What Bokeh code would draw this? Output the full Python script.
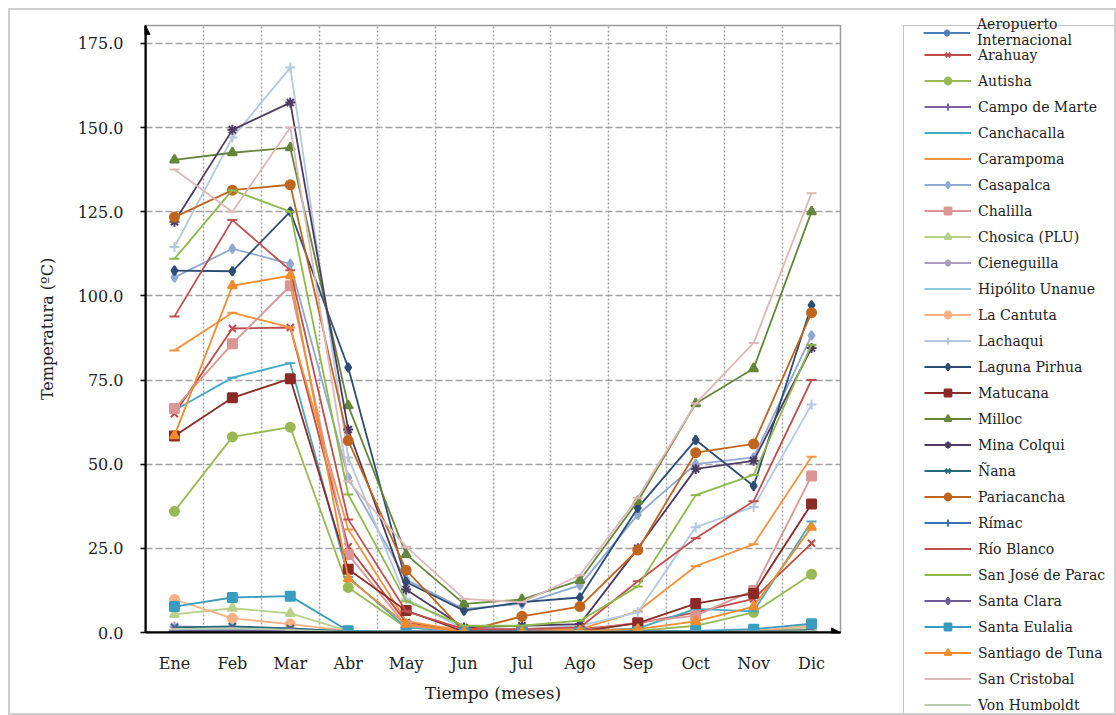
from bokeh.plotting import figure
from bokeh.layouts import row
from bokeh.models import (Range1d, FixedTicker, NumeralTickFormatter, Legend,
                          LegendItem, Arrow, NormalHead)
from bokeh.embed import file_html
from bokeh.resources import INLINE

# ---------------- data ----------------
months = ["Ene", "Feb", "Mar", "Abr", "May", "Jun", "Jul", "Ago", "Sep", "Oct", "Nov", "Dic"]
month_pos = [1, 2, 3, 4, 5, 6, 7, 8, 9, 10, 11, 12]

aeropuerto = [0.6, 0.9, 0.7, 0.2, 0.3, 0.4, 0.4, 0.5, 0.4, 0.2, 0.1, 0.3]
arahuay = [65.0, 90.3, 90.6, 25.5, 3.0, 0.5, 0.5, 1.0, 2.7, 6.0, 10.0, 26.5]
autisha = [36.0, 58.1, 61.0, 13.4, 1.5, 0.2, 0.2, 0.3, 0.5, 2.0, 6.0, 17.3]
campo_de_marte = [0.5, 0.7, 0.5, 0.2, 0.4, 0.5, 0.5, 0.6, 0.5, 0.3, 0.1, 0.3]
canchacalla = [66.0, 75.7, 80.0, 16.5, 1.5, 0.3, 0.3, 0.5, 1.2, 7.0, 6.3, 33.0]
carampoma = [83.8, 95.0, 90.6, 30.6, 3.4, 0.5, 0.5, 1.0, 6.3, 19.7, 26.2, 52.2]
casapalca = [105.5, 114.0, 109.5, 46.0, 15.7, 7.0, 8.5, 14.0, 35.0, 50.0, 52.0, 88.2]
chalilla = [66.5, 85.8, 103.0, 23.2, 2.0, 0.3, 0.3, 0.5, 3.0, 5.0, 12.5, 46.5]
chosica = [5.4, 7.2, 5.7, 0.5, 0.1, 0.0, 0.0, 0.0, 0.1, 0.2, 0.4, 1.5]
cieneguilla = [1.8, 1.5, 1.2, 0.2, 0.1, 0.0, 0.0, 0.1, 0.1, 0.2, 0.3, 0.6]
hipolito_unanue = [0.8, 1.0, 0.8, 0.2, 0.3, 0.4, 0.4, 0.5, 0.4, 0.2, 0.2, 0.3]
la_cantuta = [9.8, 4.2, 2.5, 0.5, 0.2, 0.0, 0.0, 0.0, 0.2, 0.3, 0.5, 2.0]
lachaqui = [114.5, 147.0, 167.8, 52.0, 10.0, 1.0, 1.0, 2.0, 6.0, 31.3, 37.3, 67.7]
laguna_pirhua = [107.5, 107.3, 125.0, 78.7, 15.0, 6.5, 9.0, 10.4, 37.0, 57.2, 43.5, 97.2]
matucana = [58.4, 69.7, 75.4, 18.8, 6.5, 0.3, 0.3, 0.3, 2.8, 8.6, 11.6, 38.2]
milloc = [140.4, 142.5, 144.0, 67.4, 23.2, 8.5, 9.8, 15.5, 39.0, 68.0, 78.4, 125.0]
mina_colqui = [122.0, 149.3, 157.4, 60.3, 12.8, 1.5, 2.0, 2.5, 25.0, 48.6, 51.0, 84.5]
nana = [1.5, 1.8, 1.2, 0.3, 0.1, 0.0, 0.0, 0.0, 0.1, 0.1, 0.3, 0.8]
pariacancha = [123.4, 131.4, 133.0, 57.0, 18.5, 0.3, 4.8, 7.7, 24.5, 53.4, 56.0, 95.0]
rimac = [0.3, 0.5, 0.4, 0.1, 0.2, 0.3, 0.3, 0.4, 0.3, 0.2, 0.1, 0.2]
rio_blanco = [93.9, 122.5, 107.6, 33.6, 6.3, 1.0, 1.0, 1.5, 15.2, 28.0, 39.0, 75.0]
san_jose_de_parac = [111.0, 131.4, 125.0, 41.0, 9.3, 2.0, 2.0, 3.5, 13.7, 40.8, 46.8, 85.5]
santa_clara = [0.4, 0.6, 0.4, 0.1, 0.2, 0.2, 0.2, 0.3, 0.2, 0.1, 0.1, 0.2]
santa_eulalia = [7.7, 10.4, 10.8, 0.5, 0.2, 0.1, 0.1, 0.1, 0.3, 0.5, 1.0, 2.6]
santiago_de_tuna = [58.5, 103.0, 106.0, 16.0, 2.5, 0.2, 0.2, 0.5, 1.0, 3.3, 7.7, 31.3]
san_cristobal = [137.5, 125.0, 150.0, 45.0, 25.5, 10.0, 9.0, 17.0, 40.0, 68.0, 86.0, 130.5]
von_humboldt = [1.0, 1.2, 0.8, 0.2, 0.2, 0.2, 0.2, 0.3, 0.2, 0.2, 0.2, 0.4]

station_names = ["Aeropuerto\nInternacional", "Arahuay", "Autisha", "Campo de Marte",
                 "Canchacalla", "Carampoma", "Casapalca", "Chalilla", "Chosica (PLU)",
                 "Cieneguilla", "Hipólito Unanue", "La Cantuta", "Lachaqui", "Laguna Pirhua",
                 "Matucana", "Milloc", "Mina Colqui", "Ñana", "Pariacancha", "Rímac",
                 "Río Blanco", "San José de Parac", "Santa Clara", "Santa Eulalia",
                 "Santiago de Tuna", "San Cristobal", "Von Humboldt"]
station_values = [aeropuerto, arahuay, autisha, campo_de_marte, canchacalla, carampoma,
                  casapalca, chalilla, chosica, cieneguilla, hipolito_unanue, la_cantuta,
                  lachaqui, laguna_pirhua, matucana, milloc, mina_colqui, nana, pariacancha,
                  rimac, rio_blanco, san_jose_de_parac, santa_clara, santa_eulalia,
                  santiago_de_tuna, san_cristobal, von_humboldt]

# ---------------- styles ----------------
colors = ["#4A7EBB", "#BE4B48", "#98B954", "#7D60A0", "#46AAC5", "#F69240",
          "#8FA9D2", "#D99694", "#B9D08C", "#A99BC2", "#8FC9DB", "#F9B184",
          "#B4C7E0", "#2C4D75", "#8B2A27", "#64863A", "#4D3B62", "#276A7C",
          "#C0651E", "#3C6EB4", "#C0504D", "#8DB84A", "#6E5A99", "#3A9DC0",
          "#F08C2E", "#DDB8B8", "#B8CCAE"]
markers = ["asterisk", "x", "circle", "cross", "dash", "dash",
           "diamond", "square", "triangle", "asterisk", "dash", "circle",
           "cross", "diamond", "square", "triangle", "asterisk", "x",
           "circle", "cross", "dash", "dash", "diamond", "square",
           "triangle", "dash", "dash"]

FONT = "DejaVu Serif"
TXT = "#222222"

# ---------------- main chart ----------------
p = figure(width=832, height=703,
           x_range=Range1d(0.5, 12.5), y_range=Range1d(0, 180.3),
           output_backend="svg", toolbar_location=None,
           min_border_left=135, min_border_right=2,
           min_border_top=15, min_border_bottom=81)
p.background_fill_color = "white"
p.border_fill_color = "white"
p.outline_line_color = "#9a9a9a"
p.outline_line_width = 1.5

p.xgrid.ticker = FixedTicker(ticks=[m + 0.5 for m in month_pos[:-1]])
p.xgrid.grid_line_color = "#a0a0a0"
p.xgrid.grid_line_dash = "2 2"
p.xgrid.grid_line_width = 1.5
p.ygrid.ticker = FixedTicker(ticks=[25, 50, 75, 100, 125, 150, 175])
p.ygrid.grid_line_color = "#a0a0a0"
p.ygrid.grid_line_dash = "7 3"
p.ygrid.grid_line_width = 1.5

xa = p.xaxis[0]
xa.ticker = FixedTicker(ticks=month_pos)
xa.major_label_overrides = {m: lab for m, lab in zip(month_pos, months)}
xa.major_tick_line_color = None
xa.minor_tick_line_color = None
xa.axis_line_color = "black"
xa.axis_line_width = 2
xa.major_label_standoff = 15
xa.major_label_text_font = FONT
xa.major_label_text_font_size = "16px"
xa.major_label_text_color = TXT
xa.axis_label = "Tiempo (meses)"
xa.axis_label_text_font = FONT
xa.axis_label_text_font_size = "17px"
xa.axis_label_text_font_style = "normal"
xa.axis_label_text_color = TXT
xa.axis_label_standoff = 7

ya = p.yaxis[0]
ya.ticker = FixedTicker(ticks=[0, 25, 50, 75, 100, 125, 150, 175])
ya.formatter = NumeralTickFormatter(format="0.0")
ya.minor_tick_line_color = None
ya.major_tick_in = 0
ya.major_tick_out = 5
ya.major_tick_line_color = "black"
ya.major_tick_line_width = 1.5
ya.axis_line_color = "black"
ya.axis_line_width = 2
ya.major_label_standoff = 17
ya.major_label_text_font = FONT
ya.major_label_text_font_size = "16px"
ya.major_label_text_color = TXT
ya.axis_label = "Temperatura (ºC)"
ya.axis_label_text_font = FONT
ya.axis_label_text_font_size = "16px"
ya.axis_label_text_font_style = "normal"
ya.axis_label_text_color = TXT
ya.axis_label_standoff = 18

for vals, col, mk in zip(station_values, colors, markers):
    p.line(month_pos, vals, line_color=col, line_width=1.8)
    size = 9 if mk in ("square", "circle", "triangle", "diamond") else 10
    p.scatter(month_pos, vals, marker=mk, size=size, line_color=col,
              fill_color=col, line_width=2)

xs, xe = p.x_range.start, p.x_range.end
ys, ye = p.y_range.start, p.y_range.end
p.add_layout(Arrow(end=NormalHead(size=9, fill_color="black", line_color="black"),
                   x_start=xs, y_start=ys, x_end=xs, y_end=ye,
                   line_color="black", line_width=2))
p.add_layout(Arrow(end=NormalHead(size=9, fill_color="black", line_color="black"),
                   x_start=xs, y_start=ys, x_end=xe, y_end=ys,
                   line_color="black", line_width=2))

# ---------------- legend panel ----------------
lg = figure(width=272, height=703, x_range=Range1d(0, 1), y_range=Range1d(0, 1),
            x_axis_type=None, y_axis_type=None,
            output_backend="svg", toolbar_location=None,
            min_border_left=46, min_border_right=0,
            min_border_top=0, min_border_bottom=0)
lg.outline_line_color = None
lg.background_fill_color = "white"
lg.border_fill_color = "white"
for fig in (p, lg):
    if "frame_align" in fig.properties():
        fig.frame_align = False

nan = float("nan")
items = []
for name, col, mk in zip(station_names, colors, markers):
    # legend proxies (no visible data in this panel)
    lr = lg.line(x=[nan, nan], y=[nan, nan], line_color=col, line_width=2)
    sr = lg.scatter(x=[nan], y=[nan], marker=mk, line_color=col, fill_color=col, line_width=2)
    items.append(LegendItem(label=name, renderers=[lr, sr]))

legend_style = dict(label_text_font=FONT, label_text_font_size="14px",
                    label_text_color=TXT, glyph_width=47, label_standoff=7,
                    glyph_height=17, label_height=17)

leg_main = Legend(items=items[1:], location="top_left", margin=15, padding=20, spacing=9,
                  border_line_color="#8c8c8c", border_line_width=1.5,
                  background_fill_color="white", background_fill_alpha=1.0,
                  **legend_style)
lg.add_layout(leg_main, "center")

leg_first = Legend(items=items[:1], location=(35, 665), padding=0, spacing=0,
                   border_line_color=None, background_fill_alpha=0.0,
                   label_text_line_height=0.72, **legend_style)
lg.add_layout(leg_first, "center")

layout = row(p, lg, styles={"margin": "8px 0 0 8px", "border": "2px solid #cfcfcf"})

open("out.html", "w").write(file_html(layout, INLINE))
